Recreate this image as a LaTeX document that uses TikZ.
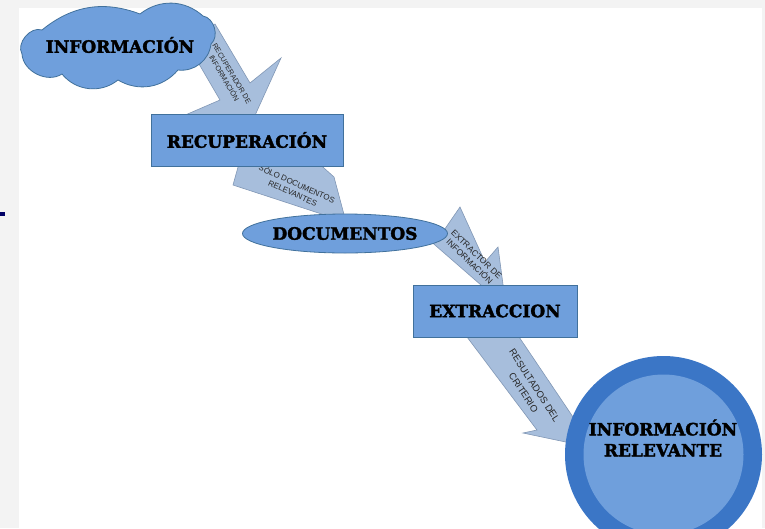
\documentclass[tikz,border=0pt]{standalone}
\usepackage{fontspec}
\setmainfont{Liberation Sans}
\newfontfamily\heavy{DejaVu Serif}[BoldFeatures={FakeBold=2}]
\usetikzlibrary{shapes.geometric}
\definecolor{framegray}{HTML}{F3F3F3}
\definecolor{nodefill}{HTML}{6F9FDC}
\definecolor{nodeline}{HTML}{41719C}
\definecolor{arrowfill}{HTML}{A7BEDC}
\definecolor{arrowline}{HTML}{8197B5}
\definecolor{ring}{HTML}{3B76C6}
\definecolor{dashblue}{HTML}{000066}
\tikzset{
  box/.style={draw=nodeline, line width=0.8pt, fill=nodefill, inner sep=0pt},
  bigtext/.style={font=\heavy\bfseries\fontsize{17}{21}\selectfont, text=black, align=center},
  blockarrow/.style={draw=arrowline, line width=0.6pt, fill=arrowfill, line join=miter},
  arrowlabel/.style={text=black!85, align=center, inner sep=0pt},
}
\begin{document}
\begin{tikzpicture}[x=1pt,y=-1pt]
\useasboundingbox (0,0) rectangle (765,528);
\fill[framegray] (0,0) rectangle (765,528);
\fill[white] (19,8) rectangle (762,528);
\fill[dashblue] (0,212) rectangle (5,216);
% block arrows (drawn first, nodes lie on top)
\draw[blockarrow] (185,40) -- (215,24) -- (250,83) -- (281,58) -- (252,122) -- (183,116) -- (220,100) -- cycle;
\node[arrowlabel, rotate=-59.5, font=\fontsize{7.3}{9}\selectfont] (lab1) at (228,76) {RECUPERADOR DE\\INFORMACIÓN};
\draw[blockarrow] (240,160) -- (315,160) -- (334,177) -- (346,222) -- (233,185) -- cycle;
\node[arrowlabel, rotate=-24, font=\fontsize{8}{10}\selectfont] (lab2) at (295,188) {SÓLO DOCUMENTOS\\RELEVANTES};
\draw[blockarrow] (420,232) -- (440,236) -- (460,207) -- (485,262) -- (498,247) -- (504,292) -- (489,292) -- cycle;
\node[arrowlabel, rotate=-44, font=\fontsize{8.5}{10}\selectfont] (lab3) at (473,258) {EXTRACTOR DE\\INFORMACIÓN};
\draw[blockarrow] (458,325) -- (511,325) -- (575,420) -- (580,445) -- (523,433) -- (537,430) -- cycle;
\node[arrowlabel, rotate=-57, font=\fontsize{9.5}{13}\selectfont] (lab4) at (529,389) {RESULTADOS DEL\\CRITERIO};
% cloud
\draw[draw=nodeline, line width=0.8pt, fill=nodefill]
  (22,54) to[bend left=70] (42,30)
  to[bend left=30] (140,14)
  to[bend left=40] (203,16)
  to[bend left=65] (211,44)
  to[bend left=45] (178,70)
  to[bend left=40] (118,80)
  to[bend left=45] (62,74)
  to[bend left=60] (22,54) -- cycle;
\node[bigtext] (info) at (120,45) {INFORMACIÓN};
% nodes
\node[box, minimum width=192pt, minimum height=52pt, bigtext] (recu) at (247,140) {RECUPERACIÓN};
\node[ellipse, box, minimum width=200pt, minimum height=39pt, bigtext] (docs) at (345,233.5) {DOCUMENTOS};
\node[box, minimum width=164pt, minimum height=52pt, bigtext] (extr) at (495,311) {EXTRACCION};
\node[circle, fill=ring, minimum size=197pt, inner sep=0pt] (relout) at (663.5,454.5) {};
\node[circle, fill=nodefill, minimum size=160pt, inner sep=0pt] (relin) at (relout.center) {};
\node[bigtext] (reltxt) at (663,438) {INFORMACIÓN\\RELEVANTE};
\end{tikzpicture}
\end{document}
